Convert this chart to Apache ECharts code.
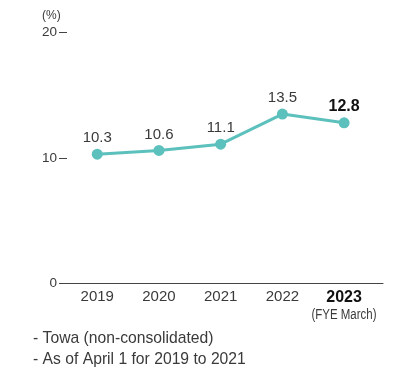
<!DOCTYPE html>
<html>
<head>
<meta charset="utf-8">
<script src="https://cdn.jsdelivr.net/npm/echarts@6/dist/echarts.min.js"></script>
<style>
  html, body { margin: 0; padding: 0; background: #fff; }
  #chart { width: 401px; height: 367px; }
</style>
</head>
<body>
<div id="chart"></div>
<script>
// Fiscal years and ratio (%) for each year
const years = [2019, 2020, 2021, 2022, 2023];
const ratios = [10.3, 10.6, 11.1, 13.5, 12.8];
const yTicks = [0, 10, 20];
const notes = ['- Towa (non-consolidated)', '- As of April 1 for 2019 to 2021'];

const TEAL = '#5cc0bc';
const TEXT = '#3a3a3a';
const FONT = '"Liberation Sans", Arial, Helvetica, sans-serif';
const lastYear = years[years.length - 1];

const chart = echarts.init(document.getElementById('chart'), null, { renderer: 'canvas' });

chart.setOption({
  backgroundColor: '#ffffff',
  animation: false,
  textStyle: { fontFamily: FONT },
  grid: { left: 67, right: 18, top: 32.5, bottom: 83.5 },
  xAxis: {
    type: 'value',
    min: 2018.51,
    max: 2023.63,
    splitLine: { show: false },
    axisLine: { show: true, lineStyle: { color: '#444', width: 1 } },
    axisTick: { show: false },
    axisLabel: {
      customValues: years,
      margin: 6,
      fontSize: 15,
      color: TEXT,
      fontFamily: FONT,
      formatter: v => (v === lastYear ? '{b|' + v + '}' : '' + v),
      rich: { b: { fontSize: 16, fontWeight: 'bold', color: '#111', fontFamily: FONT } }
    }
  },
  yAxis: {
    type: 'value',
    min: 0,
    max: 20,
    splitLine: { show: false },
    axisLine: { show: false },
    axisTick: { show: true, customValues: yTicks, length: 8, inside: false, lineStyle: { color: '#444', width: 1 } },
    axisLabel: { customValues: yTicks, margin: 10, fontSize: 13.5, color: TEXT, fontFamily: FONT }
  },
  series: [{
    type: 'line',
    symbol: 'circle',
    symbolSize: 11,
    lineStyle: { color: TEAL, width: 3 },
    itemStyle: { color: TEAL },
    label: {
      show: true,
      position: 'top',
      distance: 3,
      fontSize: 15,
      color: TEXT,
      fontFamily: FONT,
      formatter: p => p.value[1].toFixed(1)
    },
    emphasis: { disabled: true },
    data: years.map((y, i) => ({
      value: [y, ratios[i]],
      label: y === lastYear ? { fontWeight: 'bold', fontSize: 16, color: '#111' } : {}
    }))
  }],
  graphic: [
    { type: 'text', left: 42, top: 10, style: { text: '(%)', fontSize: 12, fill: TEXT, fontFamily: FONT } },
    // condensed unit note under the last year
    { type: 'text', x: 344, y: 315, scaleX: 0.82, style: { text: '(FYE March)', fontSize: 14, fill: TEXT, fontFamily: FONT, align: 'center', verticalAlign: 'middle' } },
    { type: 'text', x: 33, y: 339, style: { text: notes[0], fontSize: 15.7, fill: TEXT, fontFamily: FONT, verticalAlign: 'middle' } },
    { type: 'text', x: 33, y: 360, style: { text: notes[1], fontSize: 15.7, fill: TEXT, fontFamily: FONT, verticalAlign: 'middle' } }
  ]
});
</script>
</body>
</html>
